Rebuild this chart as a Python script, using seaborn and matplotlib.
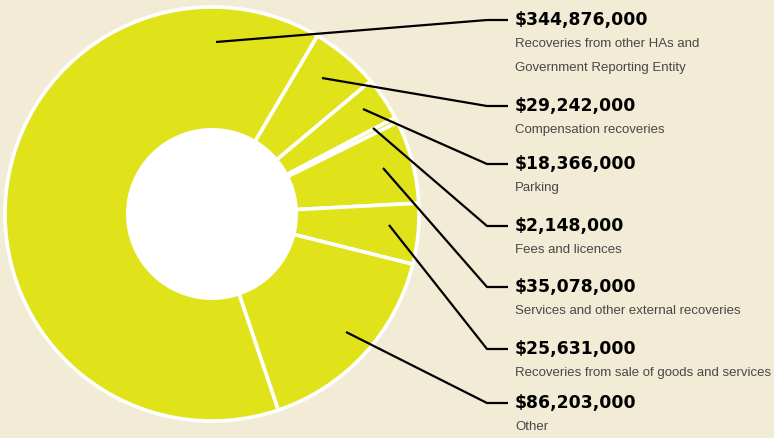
import matplotlib
matplotlib.use("Agg")
import matplotlib.pyplot as plt
import seaborn as sns
from matplotlib.patches import Circle
from matplotlib import font_manager as fm

# ---- data ----
categories = [
    "Recoveries from other HAs and\nGovernment Reporting Entity",
    "Compensation recoveries",
    "Parking",
    "Fees and licences",
    "Services and other external recoveries",
    "Recoveries from sale of goods and services",
    "Other",
]
values = [344876000, 29242000, 18366000, 2148000, 35078000, 25631000, 86203000]
value_labels = ["$344,876,000", "$29,242,000", "$18,366,000", "$2,148,000",
                "$35,078,000", "$25,631,000", "$86,203,000"]

# ---- style ----
sns.set_theme(style="white")
BG = "#F2EBD6"
YELLOW = "#E1E31A"
plt.rcParams["font.family"] = ["DejaVu Sans"]

def has_font(name, **kw):
    try:
        p = fm.findfont(fm.FontProperties(family=name, **kw), fallback_to_default=False)
        return p
    except Exception:
        return None

# choose a narrow font for descriptions if one is available
desc_font, desc_size, desc_kw = "Liberation Sans", 9.5, {}
for name, size, kw in [("Liberation Sans Narrow", 11.4, {}),
                       ("DejaVu Sans Condensed", 10.4, {})]:
    p = has_font(name, **kw)
    if p and ("Narrow" in p or "Condensed" in p):
        desc_font, desc_size, desc_kw = name, size, kw
        break

W, H = 774, 438
fig = plt.figure(figsize=(W / 100, H / 100), dpi=100, facecolor=BG)
ax = fig.add_axes([0, 0, 1, 1])
ax.set_facecolor(BG)

def P(x, y):
    return (x, H - y)

cx, cy = P(212, 214)
R = 207

# pie order: clockwise from the big wedge's end
order = list(range(1, len(values))) + [0]
ax.pie([values[i] for i in order], startangle=59.4, counterclock=False,
       colors=[YELLOW] * len(values), center=(cx, cy), radius=R,
       wedgeprops=dict(edgecolor="white", linewidth=2.6))
ax.add_patch(Circle((cx, cy), 86, facecolor="white", edgecolor="none", zorder=5))

ax.set_xlim(0, W)
ax.set_ylim(0, H)
ax.set_aspect("equal")
ax.axis("off")

# leader lines and labels (layout positions in pixels)
starts = [(216, 42), (322, 78), (363, 109), (373, 128), (383, 168), (389, 225), (346, 332)]
label_y = [20, 106, 164, 226, 287, 349, 403]
elbow_x, end_x, text_x = 487, 508, 515

for i, (sx, sy) in enumerate(starts):
    ly = label_y[i]
    xs, ys = zip(P(sx, sy), P(elbow_x, ly), P(end_x, ly))
    ax.plot(xs, ys, color="black", lw=1.6, solid_capstyle="butt", zorder=6)
    tx, ty = P(text_x, ly)
    ax.text(tx, ty, value_labels[i], fontsize=12.4, fontweight="bold",
            color="black", va="center", ha="left", family=["DejaVu Sans"])
    lines = categories[i].split("\n")
    for k, line in enumerate(lines):
        ax.text(tx, ty - 24 - 24 * k, line, fontsize=desc_size, color="#474747",
                va="center", ha="left", family=[desc_font, "DejaVu Sans"], **desc_kw)

fig.savefig("out.png", dpi=100, facecolor=BG)
